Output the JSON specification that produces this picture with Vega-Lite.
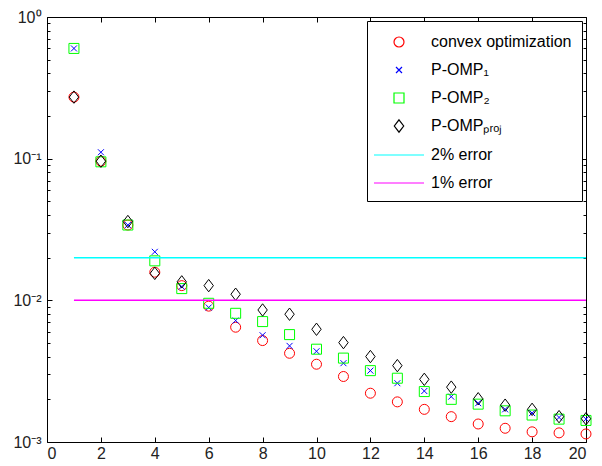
{
  "$schema": "https://vega.github.io/schema/vega-lite/v6.json",
  "width": 539,
  "height": 425,
  "autosize": {"type": "none"},
  "padding": {"left": 47, "top": 17, "right": 16, "bottom": 24},
  "background": "white",
  "datasets": {
    "pts": [
      {"n": 1, "err": 0.272, "series": "convex optimization"},
      {"n": 2, "err": 0.096, "series": "convex optimization"},
      {"n": 3, "err": 0.034, "series": "convex optimization"},
      {"n": 4, "err": 0.0158, "series": "convex optimization"},
      {"n": 5, "err": 0.0127, "series": "convex optimization"},
      {"n": 6, "err": 0.0091, "series": "convex optimization"},
      {"n": 7, "err": 0.00646, "series": "convex optimization"},
      {"n": 8, "err": 0.0052, "series": "convex optimization"},
      {"n": 9, "err": 0.00423, "series": "convex optimization"},
      {"n": 10, "err": 0.00354, "series": "convex optimization"},
      {"n": 11, "err": 0.0029, "series": "convex optimization"},
      {"n": 12, "err": 0.00221, "series": "convex optimization"},
      {"n": 13, "err": 0.00192, "series": "convex optimization"},
      {"n": 14, "err": 0.0017, "series": "convex optimization"},
      {"n": 15, "err": 0.00151, "series": "convex optimization"},
      {"n": 16, "err": 0.00134, "series": "convex optimization"},
      {"n": 17, "err": 0.00125, "series": "convex optimization"},
      {"n": 18, "err": 0.00118, "series": "convex optimization"},
      {"n": 19, "err": 0.00116, "series": "convex optimization"},
      {"n": 20, "err": 0.00114, "series": "convex optimization"},
      {"n": 1, "err": 0.6, "series": "P-OMP₁"},
      {"n": 2, "err": 0.111, "series": "P-OMP₁"},
      {"n": 3, "err": 0.034, "series": "P-OMP₁"},
      {"n": 4, "err": 0.022, "series": "P-OMP₁"},
      {"n": 5, "err": 0.0125, "series": "P-OMP₁"},
      {"n": 6, "err": 0.0089, "series": "P-OMP₁"},
      {"n": 7, "err": 0.0072, "series": "P-OMP₁"},
      {"n": 8, "err": 0.00567, "series": "P-OMP₁"},
      {"n": 9, "err": 0.00477, "series": "P-OMP₁"},
      {"n": 10, "err": 0.00437, "series": "P-OMP₁"},
      {"n": 11, "err": 0.0036, "series": "P-OMP₁"},
      {"n": 12, "err": 0.00319, "series": "P-OMP₁"},
      {"n": 13, "err": 0.0026, "series": "P-OMP₁"},
      {"n": 14, "err": 0.00229, "series": "P-OMP₁"},
      {"n": 15, "err": 0.00209, "series": "P-OMP₁"},
      {"n": 16, "err": 0.00188, "series": "P-OMP₁"},
      {"n": 17, "err": 0.0017, "series": "P-OMP₁"},
      {"n": 18, "err": 0.0016, "series": "P-OMP₁"},
      {"n": 19, "err": 0.00149, "series": "P-OMP₁"},
      {"n": 20, "err": 0.00145, "series": "P-OMP₁"},
      {"n": 1, "err": 0.6, "series": "P-OMP₂"},
      {"n": 2, "err": 0.095, "series": "P-OMP₂"},
      {"n": 3, "err": 0.034, "series": "P-OMP₂"},
      {"n": 4, "err": 0.019, "series": "P-OMP₂"},
      {"n": 5, "err": 0.0121, "series": "P-OMP₂"},
      {"n": 6, "err": 0.00953, "series": "P-OMP₂"},
      {"n": 7, "err": 0.0081, "series": "P-OMP₂"},
      {"n": 8, "err": 0.00708, "series": "P-OMP₂"},
      {"n": 9, "err": 0.00573, "series": "P-OMP₂"},
      {"n": 10, "err": 0.00452, "series": "P-OMP₂"},
      {"n": 11, "err": 0.00391, "series": "P-OMP₂"},
      {"n": 12, "err": 0.00319, "series": "P-OMP₂"},
      {"n": 13, "err": 0.00282, "series": "P-OMP₂"},
      {"n": 14, "err": 0.00227, "series": "P-OMP₂"},
      {"n": 15, "err": 0.002, "series": "P-OMP₂"},
      {"n": 16, "err": 0.00185, "series": "P-OMP₂"},
      {"n": 17, "err": 0.00166, "series": "P-OMP₂"},
      {"n": 18, "err": 0.00155, "series": "P-OMP₂"},
      {"n": 19, "err": 0.00145, "series": "P-OMP₂"},
      {"n": 20, "err": 0.00142, "series": "P-OMP₂"},
      {"n": 1, "err": 0.272, "series": "P-OMPₚᵣₒⱼ"},
      {"n": 2, "err": 0.096, "series": "P-OMPₚᵣₒⱼ"},
      {"n": 3, "err": 0.036, "series": "P-OMPₚᵣₒⱼ"},
      {"n": 4, "err": 0.0155, "series": "P-OMPₚᵣₒⱼ"},
      {"n": 5, "err": 0.0135, "series": "P-OMPₚᵣₒⱼ"},
      {"n": 6, "err": 0.0127, "series": "P-OMPₚᵣₒⱼ"},
      {"n": 7, "err": 0.01104, "series": "P-OMPₚᵣₒⱼ"},
      {"n": 8, "err": 0.00855, "series": "P-OMPₚᵣₒⱼ"},
      {"n": 9, "err": 0.00798, "series": "P-OMPₚᵣₒⱼ"},
      {"n": 10, "err": 0.00625, "series": "P-OMPₚᵣₒⱼ"},
      {"n": 11, "err": 0.00503, "series": "P-OMPₚᵣₒⱼ"},
      {"n": 12, "err": 0.00401, "series": "P-OMPₚᵣₒⱼ"},
      {"n": 13, "err": 0.00346, "series": "P-OMPₚᵣₒⱼ"},
      {"n": 14, "err": 0.00277, "series": "P-OMPₚᵣₒⱼ"},
      {"n": 15, "err": 0.00244, "series": "P-OMPₚᵣₒⱼ"},
      {"n": 16, "err": 0.00202, "series": "P-OMPₚᵣₒⱼ"},
      {"n": 17, "err": 0.00182, "series": "P-OMPₚᵣₒⱼ"},
      {"n": 18, "err": 0.0017, "series": "P-OMPₚᵣₒⱼ"},
      {"n": 19, "err": 0.00151, "series": "P-OMPₚᵣₒⱼ"},
      {"n": 20, "err": 0.00146, "series": "P-OMPₚᵣₒⱼ"}
    ],
    "lines": [
      {"level": 0.02, "series": "2% error"},
      {"level": 0.01, "series": "1% error"}
    ]
  },
  "layer": [
    {
      "data": {"name": "pts"},
      "transform": [{"filter": "datum.series === 'convex optimization'"}],
      "mark": {"type": "point", "filled": false, "size": 400, "strokeWidth": 1, "opacity": 1},
      "encoding": {
        "x": {"field": "n", "type": "quantitative", "scale": {"domain": [0, 20], "nice": false, "zero": false},
          "axis": {"orient": "bottom", "values": [0, 2, 4, 6, 8, 10, 12, 14, 16, 18, 20], "tickSize": -5, "labelPadding": 8, "title": null}},
        "y": {"field": "err", "type": "quantitative", "scale": {"type": "log", "domain": [0.001, 1], "nice": false},
          "axis": {"orient": "left", "values": [0.001, 0.01, 0.1, 1], "tickSize": -5, "labelPadding": 11, "title": null,
            "labelExpr": "datum.value >= 0.99 ? '10⁰' : datum.value >= 0.099 ? '10⁻¹' : datum.value >= 0.0099 ? '10⁻²' : '10⁻³'"}},
        "stroke": {"field": "series", "type": "nominal", "title": null,
          "scale": {"domain": ["convex optimization", "P-OMP₁", "P-OMP₂", "P-OMPₚᵣₒⱼ", "2% error", "1% error"],
            "range": ["#ff0000", "#0000ff", "#00ff00", "#000000", "#00ffff", "#ff00ff"]}},
        "shape": {"field": "series", "type": "nominal", "title": null,
          "scale": {"domain": ["convex optimization", "P-OMP₁", "P-OMP₂", "P-OMPₚᵣₒⱼ", "2% error", "1% error"],
            "range": ["M0.5,0A0.5,0.5,0,1,1,-0.5,0A0.5,0.5,0,1,1,0.5,0Z", "M-0.3,-0.3L0.3,0.3M-0.3,0.3L0.3,-0.3", "M-0.5,-0.5H0.5V0.5H-0.5Z", "M0,-0.62L0.47,0L0,0.62L-0.47,0Z", "M-2.5,0H2.5", "M-2.5,0H2.5"]}}
      }
    },
    {
      "data": {"name": "pts"},
      "transform": [{"filter": "datum.series === 'P-OMP₁'"}],
      "mark": {"type": "point", "filled": false, "size": 400, "strokeWidth": 1, "opacity": 1},
      "encoding": {
        "x": {"field": "n", "type": "quantitative",
          "axis": {"orient": "top", "values": [0, 2, 4, 6, 8, 10, 12, 14, 16, 18, 20], "tickSize": -5, "labels": false, "title": null}},
        "y": {"field": "err", "type": "quantitative",
          "axis": {"orient": "left", "values": [0.002, 0.003, 0.004, 0.005, 0.006, 0.007, 0.008, 0.009, 0.02, 0.03, 0.04, 0.05, 0.06, 0.07, 0.08, 0.09, 0.2, 0.3, 0.4, 0.5, 0.6, 0.7, 0.8, 0.9], "tickSize": -3, "labels": false, "title": null}},
        "stroke": {"field": "series", "type": "nominal", "title": null},
        "shape": {"field": "series", "type": "nominal", "title": null}
      }
    },
    {
      "data": {"name": "pts"},
      "transform": [{"filter": "datum.series === 'P-OMP₂'"}],
      "mark": {"type": "point", "filled": false, "size": 400, "strokeWidth": 1, "opacity": 1},
      "encoding": {
        "x": {"field": "n", "type": "quantitative", "axis": null},
        "y": {"field": "err", "type": "quantitative",
          "axis": {"orient": "right", "values": [0.001, 0.01, 0.1, 1], "tickSize": -5, "labels": false, "title": null}},
        "stroke": {"field": "series", "type": "nominal", "title": null},
        "shape": {"field": "series", "type": "nominal", "title": null}
      }
    },
    {
      "data": {"name": "pts"},
      "transform": [{"filter": "datum.series === 'P-OMPₚᵣₒⱼ'"}],
      "mark": {"type": "point", "filled": false, "size": 400, "strokeWidth": 1, "opacity": 1},
      "encoding": {
        "x": {"field": "n", "type": "quantitative", "axis": null},
        "y": {"field": "err", "type": "quantitative",
          "axis": {"orient": "right", "values": [0.002, 0.003, 0.004, 0.005, 0.006, 0.007, 0.008, 0.009, 0.02, 0.03, 0.04, 0.05, 0.06, 0.07, 0.08, 0.09, 0.2, 0.3, 0.4, 0.5, 0.6, 0.7, 0.8, 0.9], "tickSize": -3, "labels": false, "title": null}},
        "stroke": {"field": "series", "type": "nominal", "title": null},
        "shape": {"field": "series", "type": "nominal", "title": null}
      }
    },
    {
      "data": {"name": "lines"},
      "mark": {"type": "rule", "strokeWidth": 1.5},
      "encoding": {
        "x": {"datum": 1, "type": "quantitative", "axis": null},
        "x2": {"datum": 20},
        "y": {"field": "level", "type": "quantitative", "axis": null},
        "stroke": {"field": "series", "type": "nominal", "title": null}
      }
    }
  ],
  "resolve": {"axis": {"x": "independent", "y": "independent"}},
  "config": {
    "view": {"stroke": "black", "strokeWidth": 1},
    "axis": {"domain": false, "grid": false, "labelFont": "Liberation Sans", "labelFontSize": 16, "labelColor": "#222222", "tickColor": "black", "tickWidth": 1},
    "legend": {
      "orient": "top-right", "offset": 4, "padding": 10, "strokeColor": "black", "fillColor": "white",
      "labelFont": "Liberation Sans", "labelFontSize": 16, "labelColor": "black",
      "symbolSize": 400, "symbolStrokeWidth": 1.2, "symbolOffset": 11, "labelOffset": 21, "rowPadding": 9,
      "symbolFillColor": "transparent"
    }
  }
}
